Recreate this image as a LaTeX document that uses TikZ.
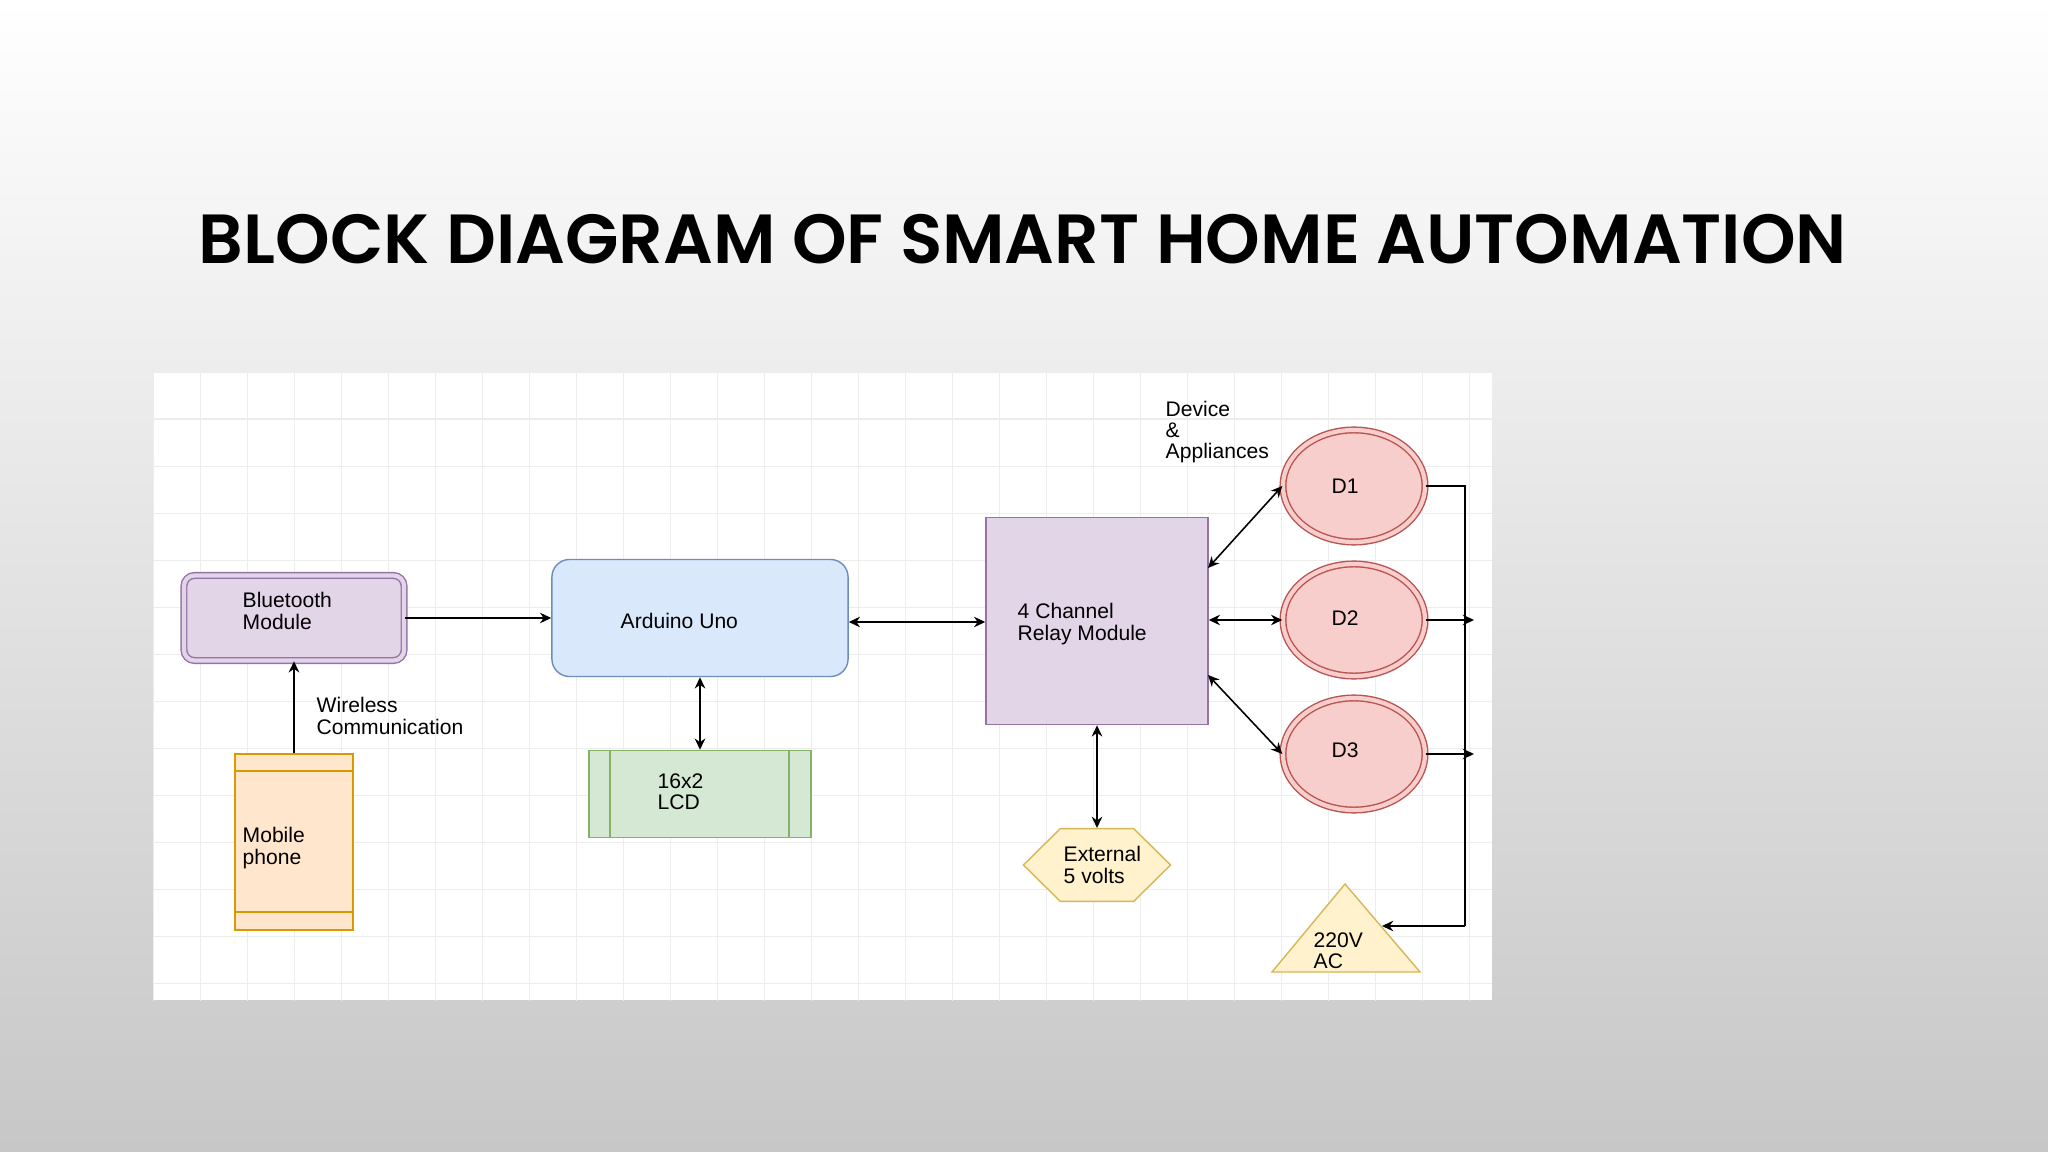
\documentclass[tikz,border=0pt]{standalone}
\usepackage{fontspec}
\setmainfont{Liberation Sans}
\newfontfamily\titlefont{Poppins SemiBold}
\usetikzlibrary{shapes.geometric,arrows.meta}
\definecolor{pfill}{HTML}{E1D5E7}\definecolor{pdraw}{HTML}{9673A6}
\definecolor{bfill}{HTML}{DAE8FC}\definecolor{bdraw}{HTML}{6C8EBF}
\definecolor{gfill}{HTML}{D5E8D4}\definecolor{gdraw}{HTML}{82B366}
\definecolor{ofill}{HTML}{FFE6CC}\definecolor{odraw}{HTML}{D79B00}
\definecolor{yfill}{HTML}{FFF2CC}\definecolor{ydraw}{HTML}{D6B656}
\definecolor{rfill}{HTML}{F8CECC}\definecolor{rdraw}{HTML}{B85450}
\tikzset{
 lbl/.style={font=\fontsize{6}{6}\selectfont, align=left, inner sep=0, anchor=west},
 conn/.style={line width=0.45pt, -{Stealth[length=3.2pt,width=3pt]}},
 bconn/.style={line width=0.45pt, {Stealth[length=3.2pt,width=3pt]}-{Stealth[length=3.2pt,width=3pt]}},
 dev/.style={ellipse, draw=rdraw, fill=rfill, double=rfill, double distance=1.2pt, line width=0.4pt, minimum width=1.42cm, minimum height=1.12cm, inner sep=0},
}
\begin{document}
\begin{tikzpicture}[x=0.01cm,y=-0.01cm]
\useasboundingbox (0,0) rectangle (2048,1152);
\shade[top color=white, middle color=black!7, bottom color=black!22] (0,0) rectangle (2048,1152);
\node (title) at (1023,239) {\resizebox{16.47cm}{!}{\titlefont BLOCK DIAGRAM OF SMART HOME AUTOMATION}};
% panel
\fill[white] (153,372) rectangle (1492,1000);
\begin{scope}
\clip (153,372) rectangle (1492,1000);
\draw[black!7, line width=0.3pt, shift={(153,372)}] (0,0) grid[step=0.47cm] (1340,630);
\end{scope}
% nodes
\node[draw=pdraw, fill=pfill, rounded corners=3pt, double=pfill, double distance=1.2pt, minimum width=2.2cm, minimum height=0.85cm] (bt) at (294,618) {};
\node[lbl] at (242,611) {Bluetooth\\Module};
\node[draw=bdraw, fill=bfill, rounded corners=5pt, minimum width=2.96cm, minimum height=1.17cm] (ard) at (700,618) {};
\node[lbl] at (620,621) {Arduino Uno};
\node[draw=pdraw, fill=pfill, minimum width=2.22cm, minimum height=2.07cm] (relay) at (1097,621) {};
\node[lbl] at (1017,624) {4 Channel\\Relay Module};
\node[draw=gdraw, fill=gfill, minimum width=2.22cm, minimum height=0.87cm] (lcd) at (700,794) {};
\draw[gdraw] (610,751) -- (610,838) (789,751) -- (789,838);
\node[lbl] at (657,792) {16x2\\LCD};
\node[draw=odraw, fill=ofill, minimum width=1.18cm, minimum height=1.76cm] (mob) at (294,842) {};
\draw[odraw] (235,771) -- (353,771) (235,912) -- (353,912);
\node[lbl] at (242,848) {Mobile\\phone};
\node[regular polygon, regular polygon sides=6, shape border rotate=0, draw=ydraw, fill=yfill, minimum size=1.47cm, inner sep=0, yscale=0.57] (ext) at (1097,865) {};
\coordinate (extt) at (1097,828);
\node[lbl] at (1063,865) {External\\5 volts};
\node[dev] (d1) at (1354,486) {};
\node[dev] (d2) at (1354,620) {};
\node[dev] (d3) at (1354,754) {};
\node[lbl] at (1331,486) {D1};
\node[lbl] at (1331,618) {D2};
\node[lbl] at (1331,750) {D3};
\draw[draw=ydraw, fill=yfill] (1345,884) -- (1420,972) -- (1272,972) -- cycle;
\coordinate (ac) at (1382,926);
\node[lbl] at (1313,951) {220V\\AC};
\node[lbl] at (1165,432) {Device\\\&\\Appliances};
\node[lbl] at (316,716) {Wireless\\Communication};
% connectors
\draw[conn] (bt.east) -- (ard.west);
\draw[conn] (mob.north) -- (bt.south);
\draw[bconn] (ard.east |- 0,622) -- (relay.west |- 0,622);
\draw[bconn] (ard.south) -- (lcd.north);
\draw[bconn] (relay.south) -- (extt);
\draw[bconn] (1208,568) -- (d1.west);
\draw[bconn] (relay.east |- d2.west) -- (d2.west);
\draw[bconn] (1208,675) -- (d3.west);
\draw[line width=0.45pt] (d1.east) -- (1465,486) -- (1465,926);
\draw[conn] (1465,926) -- (ac);
\draw[conn] (d2.east) -- (1474,620);
\draw[conn] (d3.east) -- (1474,754);
\end{tikzpicture}
\end{document}
